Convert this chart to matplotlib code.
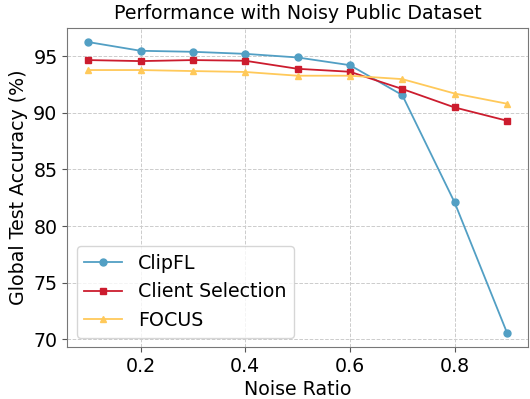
import matplotlib
matplotlib.use("Agg")
import matplotlib.pyplot as plt

noise = [0.1, 0.2, 0.3, 0.4, 0.5, 0.6, 0.7, 0.8, 0.9]
clipfl = [96.24, 95.47, 95.38, 95.2, 94.88, 94.2, 91.56, 82.09, 70.6]
client_sel = [94.65, 94.56, 94.65, 94.59, 93.88, 93.62, 92.1, 90.47, 89.3]
focus = [93.77, 93.77, 93.68, 93.6, 93.27, 93.27, 92.97, 91.7, 90.8]

fs = 13.7
fig, ax = plt.subplots(figsize=(5.3, 3.99), dpi=100)
ax.plot(noise, clipfl, marker='o', color='#529FC4', markersize=5, linewidth=1.3, label='ClipFL')
ax.plot(noise, client_sel, marker='s', color='#CC1C2E', markersize=5, linewidth=1.3, label='Client Selection')
ax.plot(noise, focus, marker='^', color='#FFC95A', markersize=5, linewidth=1.3, label='FOCUS')

ax.set_title("Performance with Noisy Public Dataset", fontsize=fs)
ax.set_xlabel("Noise Ratio", fontsize=fs, labelpad=3)
ax.set_ylabel("Global Test Accuracy (%)", fontsize=fs)
ax.tick_params(labelsize=fs, color='#555555')
ax.set_yticks([70, 75, 80, 85, 90, 95])
ax.set_xticks([0.2, 0.4, 0.6, 0.8])
ax.grid(True, linestyle='--', color='#cccccc', linewidth=0.7)
for s in ax.spines.values():
    s.set_color('#777777')
ax.legend(fontsize=fs, loc='lower left')

fig.subplots_adjust(left=0.127, right=0.996, bottom=0.13, top=0.931)
fig.savefig("out.png")
